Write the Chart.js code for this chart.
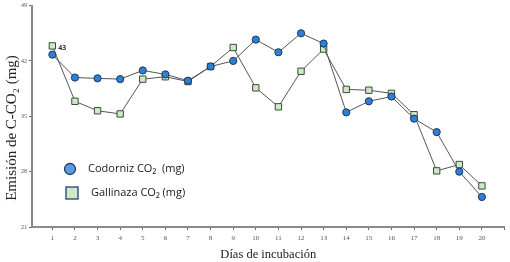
<!DOCTYPE html>
<html>
<head>
<meta charset="utf-8">
<script src="https://cdn.jsdelivr.net/npm/chart.js@4.4.1/dist/chart.umd.min.js"></script>
<style>
  html, body { margin: 0; padding: 0; background: #fff; }
  #wrap { width: 510px; height: 262px; }
</style>
</head>
<body>
<div id="wrap"><canvas id="c" width="510" height="262"></canvas></div>
<script>
const days = [1,2,3,4,5,6,7,8,9,10,11,12,13,14,15,16,17,18,19,20];
const codorniz = [42.8,39.9,39.8,39.7,40.8,40.3,39.5,41.3,42.0,44.7,43.1,45.5,44.2,35.5,36.9,37.5,34.7,33.0,28.0,24.8];
const gallinaza = [43.9,36.9,35.7,35.3,39.7,40.0,39.4,41.3,43.7,38.6,36.2,40.7,43.5,38.4,38.3,37.9,35.2,28.1,28.9,26.2];
const yTicks = [21, 28, 35, 42, 49];
const yTitle = 'Emisión de C-CO\u2082 (mg)';

const serif = '"Liberation Serif", "DejaVu Serif", serif';
const sans = '"Open Sans", "Noto Sans", sans-serif';

// legend drawn inside the plot, the y title, and the "43" note on the first square
const insideLegend = {
  id: 'insideLegend',
  afterDraw(chart) {
    const ctx = chart.ctx;
    const items = [
      { ds: chart.data.datasets[0], x: 70, y: 169, tx: 88 },
      { ds: chart.data.datasets[1], x: 72, y: 193, tx: 91 },
    ];
    ctx.save();
    items.forEach(it => {
      ctx.lineWidth = 1.3;
      ctx.fillStyle = it.ds.legendFill;
      ctx.strokeStyle = it.ds.legendBorder;
      if (it.ds.pointStyle === 'circle') {
        ctx.beginPath();
        ctx.arc(it.x, it.y, 5.5, 0, Math.PI * 2);
        ctx.fill(); ctx.stroke();
      } else {
        ctx.fillRect(it.x - 6, it.y - 6, 12, 12);
        ctx.strokeRect(it.x - 6, it.y - 6, 12, 12);
      }
      ctx.fillStyle = '#1a1a1a';
      ctx.font = '11px ' + sans;
      ctx.textBaseline = 'middle';
      ctx.fillText(it.ds.label, it.tx, it.y);
    });
    const xs = chart.scales.x, ys = chart.scales.y;
    ctx.font = 'bold 7px ' + sans;
    ctx.fillStyle = '#333';
    ctx.fillText('43', xs.getPixelForValue(days[0]) + 6, ys.getPixelForValue(gallinaza[0]) + 2);

    ctx.translate(12, 128);
    ctx.rotate(-Math.PI / 2);
    ctx.font = '15px ' + serif;
    ctx.fillStyle = '#222';
    ctx.textAlign = 'center';
    ctx.textBaseline = 'middle';
    ctx.fillText(yTitle, 0, 0);
    ctx.restore();
  }
};

new Chart(document.getElementById('c'), {
  type: 'line',
  data: {
    datasets: [
      {
        label: 'Codorniz CO\u2082  (mg)',
        data: days.map((d, i) => ({ x: d, y: codorniz[i] })),
        borderColor: '#555',
        borderWidth: 1,
        pointStyle: 'circle',
        pointRadius: 3.6,
        pointBackgroundColor: '#2e7fd6',
        pointBorderColor: '#1d3557',
        pointBorderWidth: 1,
        legendFill: '#5b9be0',
        legendBorder: '#1d3a6e',
        tension: 0,
      },
      {
        label: 'Gallinaza CO\u2082 (mg)',
        data: days.map((d, i) => ({ x: d, y: gallinaza[i] })),
        borderColor: '#555',
        borderWidth: 1,
        pointStyle: 'rect',
        pointRadius: 4.5,
        pointBackgroundColor: '#c9ecc2',
        pointBorderColor: '#444',
        pointBorderWidth: 1,
        legendFill: '#cdeac0',
        legendBorder: '#2a3a80',
        tension: 0,
      },
    ],
  },
  plugins: [insideLegend],
  options: {
    responsive: false,
    animation: false,
    layout: { padding: { top: 4, right: 5, left: 0, bottom: 0 } },
    plugins: { legend: { display: false }, tooltip: { enabled: false } },
    scales: {
      x: {
        type: 'linear',
        min: 0.1, max: 21,
        afterBuildTicks: s => { s.ticks = days.concat([21]).map(v => ({ value: v })); },
        afterFit: s => { s.height = 35; },
        grid: { drawOnChartArea: false, drawTicks: true, tickLength: 3, color: '#666' },
        border: { display: true, color: '#8a8a8a', width: 2 },
        ticks: {
          padding: 4,
          color: '#555',
          font: { size: 7, family: serif },
          callback: v => (v >= 1 && v <= 20 ? String(v) : ''),
        },
        title: {
          display: true,
          text: 'Días de incubación',
          color: '#222',
          font: { size: 12.5, family: serif },
          padding: { top: 1, bottom: 0 },
        },
      },
      y: {
        min: 21, max: 49,
        afterBuildTicks: s => { s.ticks = yTicks.map(v => ({ value: v })); },
        afterFit: s => { s.width = 32; },
        grid: { drawOnChartArea: false, drawTicks: true, tickLength: 3, color: '#666' },
        border: { display: true, color: '#8a8a8a', width: 2 },
        ticks: {
          padding: 2,
          color: '#555',
          font: { size: 6, family: serif },
        },
        title: { display: false },
      },
    },
  },
});
</script>
</body>
</html>
